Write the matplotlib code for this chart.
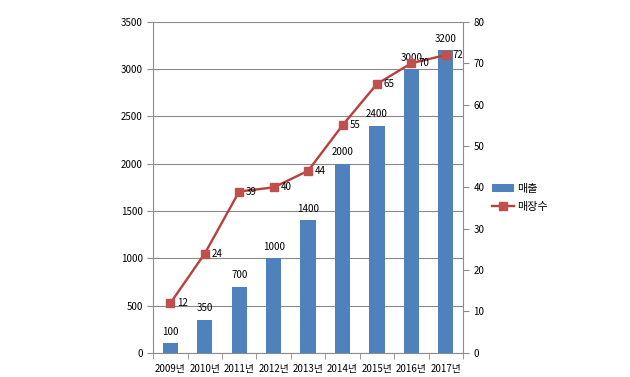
import matplotlib.pyplot as plt
import numpy as np

plt.rcParams['font.family'] = ['Noto Sans CJK KR', 'DejaVu Sans']

years = ['2009년', '2010년', '2011년', '2012년', '2013년', '2014년', '2015년', '2016년', '2017년']
sales = [100, 350, 700, 1000, 1400, 2000, 2400, 3000, 3200]
stores = [12, 24, 39, 40, 44, 55, 65, 70, 72]

bar_color = '#4F81BD'
line_color = '#B7403D'
axis_color = '#8c8c8c'

fig = plt.figure(figsize=(6.3, 3.77), dpi=100)
ax = fig.add_axes([0.243, 0.064, 0.492, 0.878])
x = np.arange(len(years))

ax.bar(x, sales, width=0.44, color=bar_color, label='매출', zorder=2)
ax.set_ylim(0, 3500)
ax.set_yticks(range(0, 3501, 500))
ax.set_xlim(-0.5, len(years) - 0.5)
ax.set_xticks(x)
ax.set_xticklabels(years)
ax.set_xticks(np.arange(-0.5, len(years), 1), minor=True)
ax.tick_params(axis='x', which='major', length=0, labelsize=7, pad=8)
ax.tick_params(axis='x', which='minor', length=4, color=axis_color)
ax.tick_params(axis='y', labelsize=7, length=4, color=axis_color)
ax.grid(axis='y', color='#8a8a8a', linewidth=0.8, zorder=0)
for s in ['top', 'right']:
    ax.spines[s].set_visible(False)
for s in ['left', 'bottom']:
    ax.spines[s].set_color(axis_color)

for xi, v in zip(x, sales):
    ax.text(xi, v + 70, str(v), ha='center', va='bottom', fontsize=7)

ax2 = ax.twinx()
ax2.plot(x, stores, color=line_color, linewidth=1.7, marker='s', markersize=5.5,
         markerfacecolor='#C0504D', markeredgecolor='#C0504D', label='매장수', zorder=3)
ax2.set_ylim(0, 80)
ax2.set_yticks(range(0, 81, 10))
ax2.tick_params(axis='y', labelsize=7, length=4, color=axis_color)
for s in ['top', 'left', 'bottom']:
    ax2.spines[s].set_visible(False)
ax2.spines['right'].set_color(axis_color)

for xi, v in zip(x, stores):
    ax2.text(xi + 0.2, v, str(v), ha='left', va='center', fontsize=7)

h1, l1 = ax.get_legend_handles_labels()
h2, l2 = ax2.get_legend_handles_labels()
fig.legend(h1 + h2, l1 + l2, loc='center left', bbox_to_anchor=(0.765, 0.475),
           frameon=False, fontsize=8, handlelength=2.0, labelspacing=0.75,
           handletextpad=0.3)

fig.savefig('out.png', dpi=100)
